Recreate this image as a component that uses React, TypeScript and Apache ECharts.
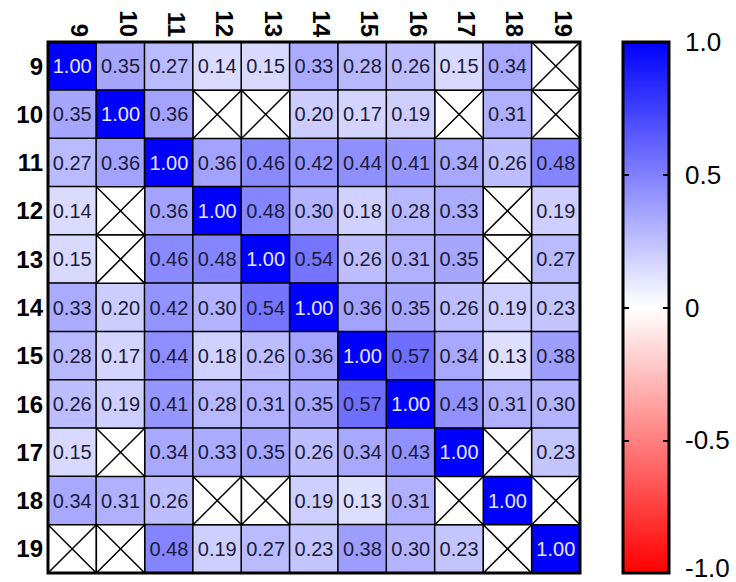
import React, { useEffect, useRef } from "react";
import * as echarts from "echarts";

const categories = ["9", "10", "11", "12", "13", "14", "15", "16", "17", "18", "19"];

// correlation matrix rows (row label = categories[i]); null = missing (X cell)
const row9 = [1.0, 0.35, 0.27, 0.14, 0.15, 0.33, 0.28, 0.26, 0.15, 0.34, null];
const row10 = [0.35, 1.0, 0.36, null, null, 0.2, 0.17, 0.19, null, 0.31, null];
const row11 = [0.27, 0.36, 1.0, 0.36, 0.46, 0.42, 0.44, 0.41, 0.34, 0.26, 0.48];
const row12 = [0.14, null, 0.36, 1.0, 0.48, 0.3, 0.18, 0.28, 0.33, null, 0.19];
const row13 = [0.15, null, 0.46, 0.48, 1.0, 0.54, 0.26, 0.31, 0.35, null, 0.27];
const row14 = [0.33, 0.2, 0.42, 0.3, 0.54, 1.0, 0.36, 0.35, 0.26, 0.19, 0.23];
const row15 = [0.28, 0.17, 0.44, 0.18, 0.26, 0.36, 1.0, 0.57, 0.34, 0.13, 0.38];
const row16 = [0.26, 0.19, 0.41, 0.28, 0.31, 0.35, 0.57, 1.0, 0.43, 0.31, 0.3];
const row17 = [0.15, null, 0.34, 0.33, 0.35, 0.26, 0.34, 0.43, 1.0, null, 0.23];
const row18 = [0.34, 0.31, 0.26, null, null, 0.19, 0.13, 0.31, null, 1.0, null];
const row19 = [null, null, 0.48, 0.19, 0.27, 0.23, 0.38, 0.3, 0.23, null, 1.0];
const matrix = [row9, row10, row11, row12, row13, row14, row15, row16, row17, row18, row19];

const colorbarLabels: Record<string, string> = { "1": "1.0", "0.5": "0.5", "0": "0", "-0.5": "-0.5", "-1": "{lo|-1.0}" };

const FONT = "Arial, 'Liberation Sans', sans-serif";

export default function App() {
  const ref = useRef<HTMLDivElement>(null);
  useEffect(() => {
    if (!ref.current) return;
    const chart = echarts.init(ref.current, null, { renderer: "svg" });

    const heatData: any[] = [];
    const missing: any[] = [];
    matrix.forEach((row, yi) => {
      row.forEach((v, xi) => {
        if (v === null) {
          missing.push([xi, yi]);
        } else if (v === 1) {
          heatData.push({ value: [xi, yi, v], label: { color: "#e6e6ff" } });
        } else {
          heatData.push({ value: [xi, yi, v] });
        }
      });
    });

    const option: any = {
      animation: false,
      backgroundColor: "#ffffff",
      textStyle: { fontFamily: FONT },
      grid: [
        {
          left: 48,
          top: 42,
          width: 532,
          height: 531,
          show: true,
          borderColor: "#000",
          borderWidth: 3,
          backgroundColor: "transparent",
          z: 10,
        },
        { left: 623, top: 42, width: 46, height: 531 },
      ],
      xAxis: [
        {
          type: "category",
          data: categories,
          gridIndex: 0,
          position: "top",
          axisLine: { show: false },
          axisTick: { show: false },
          splitLine: { show: false },
          axisLabel: {
            rotate: 90,
            interval: 0,
            margin: 5,
            fontSize: 24,
            fontWeight: "bold",
            color: "#000",
            fontFamily: FONT,
            verticalAlign: "bottom",
            lineHeight: 15,
          },
        },
        {
          type: "category",
          data: ["bar"],
          gridIndex: 1,
          show: false,
        },
      ],
      yAxis: [
        {
          type: "category",
          data: categories,
          gridIndex: 0,
          inverse: true,
          axisLine: { show: false },
          axisTick: { show: false },
          splitLine: { show: false },
          axisLabel: {
            interval: 0,
            margin: 5,
            fontSize: 24,
            fontWeight: "bold",
            color: "#000",
            fontFamily: FONT,
          },
        },
        {
          type: "value",
          gridIndex: 1,
          min: -1,
          max: 1,
          interval: 0.5,
          position: "left",
          axisLine: { show: false },
          axisTick: { show: true, inside: true, length: 6, lineStyle: { color: "#000", width: 2 } },
          axisLabel: { show: false },
          splitLine: { show: false },
          z: 5,
        },
        {
          type: "value",
          gridIndex: 1,
          min: -1,
          max: 1,
          interval: 0.5,
          position: "right",
          axisLine: { show: false },
          axisTick: { show: true, inside: true, length: 6, lineStyle: { color: "#000", width: 2 } },
          axisLabel: {
            show: true,
            margin: 16,
            fontSize: 26,
            color: "#000",
            fontFamily: FONT,
            formatter: (v: number) => colorbarLabels[String(v)] ?? String(v),
            rich: {
              lo: { fontSize: 26, color: "#000", fontFamily: FONT, padding: [0, 0, 10, 0] },
            },
          },
          splitLine: { show: false },
          z: 5,
        },
      ],
      visualMap: {
        type: "continuous",
        show: false,
        min: -1,
        max: 1,
        dimension: 2,
        seriesIndex: 0,
        inRange: { color: ["#ff0000", "#ffffff", "#0000ff"] },
      },
      series: [
        {
          type: "heatmap",
          xAxisIndex: 0,
          yAxisIndex: 0,
          data: heatData,
          itemStyle: { borderColor: "#000", borderWidth: 1.5 },
          label: {
            show: true,
            fontSize: 20,
            color: "#1c1c3a",
            fontFamily: FONT,
            formatter: (p: any) => p.value[2].toFixed(2),
          },
          emphasis: { disabled: true },
        },
        {
          type: "custom",
          xAxisIndex: 0,
          yAxisIndex: 0,
          data: missing,
          renderItem: (params: any, api: any) => {
            const c = api.coord([api.value(0), api.value(1)]);
            const s = api.size([1, 1]);
            const x0 = c[0] - s[0] / 2;
            const y0 = c[1] - s[1] / 2;
            const x1 = c[0] + s[0] / 2;
            const y1 = c[1] + s[1] / 2;
            const ls = { stroke: "#000", lineWidth: 1.5 };
            return {
              type: "group",
              children: [
                {
                  type: "rect",
                  shape: { x: x0, y: y0, width: s[0], height: s[1] },
                  style: { fill: "#fff", stroke: "#000", lineWidth: 1.5 },
                },
                { type: "line", shape: { x1: x0, y1: y0, x2: x1, y2: y1 }, style: ls },
                { type: "line", shape: { x1: x1, y1: y0, x2: x0, y2: y1 }, style: ls },
              ],
            };
          },
          silent: true,
        },
        {
          type: "custom",
          xAxisIndex: 1,
          yAxisIndex: 1,
          data: [[0, -1, 1]],
          renderItem: (params: any, api: any) => {
            const cs = params.coordSys;
            const top = api.coord([0, api.value(2)]);
            const bot = api.coord([0, api.value(1)]);
            return {
              type: "rect",
              shape: { x: cs.x, y: top[1], width: cs.width, height: bot[1] - top[1] },
              style: {
                fill: new echarts.graphic.LinearGradient(0, 0, 0, 1, [
                  { offset: 0, color: "#0000ff" },
                  { offset: 0.5, color: "#ffffff" },
                  { offset: 1, color: "#ff0000" },
                ]),
                stroke: "#000",
                lineWidth: 3,
              },
            };
          },
          silent: true,
          z: 1,
        },
      ],
    };
    chart.setOption(option);
    return () => chart.dispose();
  }, []);

  return (
    <div
      ref={ref}
      style={{ position: "absolute", left: 0, top: 0, width: 736, height: 582 }}
    />
  );
}
